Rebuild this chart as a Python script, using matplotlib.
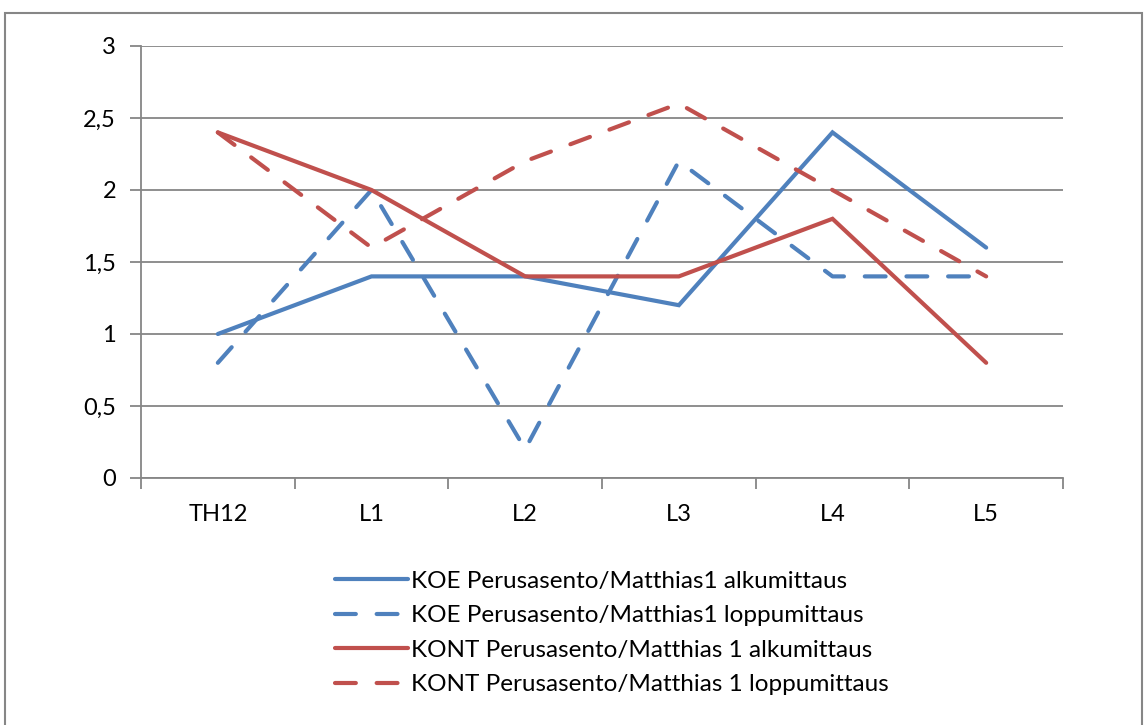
import matplotlib.pyplot as plt
from matplotlib.patches import Rectangle
from matplotlib.ticker import FuncFormatter

plt.rcParams['font.family'] = ['Lato', 'DejaVu Sans']

categories = ["TH12", "L1", "L2", "L3", "L4", "L5"]
koe_alku = [1.0, 1.4, 1.4, 1.2, 2.4, 1.6]
koe_loppu = [0.8, 2.0, 0.2, 2.2, 1.4, 1.4]
kont_alku = [2.4, 2.0, 1.4, 1.4, 1.8, 0.8]
kont_loppu = [2.4, 1.6, 2.2, 2.6, 2.0, 1.4]
labels = ["KOE Perusasento/Matthias1 alkumittaus",
          "KOE Perusasento/Matthias1 loppumittaus",
          "KONT Perusasento/Matthias 1 alkumittaus",
          "KONT Perusasento/Matthias 1 loppumittaus"]

blue = "#4F81BD"
red = "#C0504D"
gray = "#868686"
W, H = 1144, 725

fig = plt.figure(figsize=(W / 100, H / 100), dpi=100)
ax = fig.add_axes([141 / W, (H - 478) / H, (1063 - 141) / W, (478 - 46) / H])

x = list(range(len(categories)))
dash = (0, (5.0, 5.0))
series = [(koe_alku, blue, '-'), (koe_loppu, blue, dash),
          (kont_alku, red, '-'), (kont_loppu, red, dash)]
for (vals, col, ls), lab in zip(series, labels):
    ax.plot(x, vals, color=col, linestyle=ls, lw=3.0, label=lab,
            solid_capstyle='round', dash_capstyle='round', solid_joinstyle='miter')

ax.set_xlim(-0.5, len(categories) - 0.5)
ax.set_ylim(0, 3)
ax.set_yticks([0, 0.5, 1, 1.5, 2, 2.5, 3])
ax.yaxis.set_major_formatter(FuncFormatter(lambda v, p: f"{v:g}".replace('.', ',')))
ax.grid(axis='y', color=gray, lw=1.3)
ax.set_axisbelow(True)

ax.set_xticks([i - 0.5 for i in range(len(categories) + 1)])
ax.set_xticklabels([])
ax.set_xticks(x, minor=True)
ax.set_xticklabels(categories, minor=True)
ax.tick_params(axis='x', which='major', length=8, color=gray, width=1.3)
ax.tick_params(axis='x', which='minor', length=0, pad=19, labelsize=17)
ax.tick_params(axis='y', length=8, color=gray, width=1.3, pad=10, labelsize=17)

for s in ['top', 'right']:
    ax.spines[s].set_visible(False)
for s in ['left', 'bottom']:
    ax.spines[s].set_color(gray)
    ax.spines[s].set_linewidth(1.3)

fig.legend(loc='upper left', bbox_to_anchor=(313 / W, (H - 549) / H), frameon=False,
           fontsize=17.5, handlelength=3.0, handletextpad=0.15, labelspacing=0.55)

fig.patches.append(Rectangle((5 / W, -0.01), (1142 - 5) / W, (H - 13) / H + 0.01,
                             transform=fig.transFigure, fill=False, edgecolor=gray, lw=1.5))

fig.savefig("out.png", dpi=100)
